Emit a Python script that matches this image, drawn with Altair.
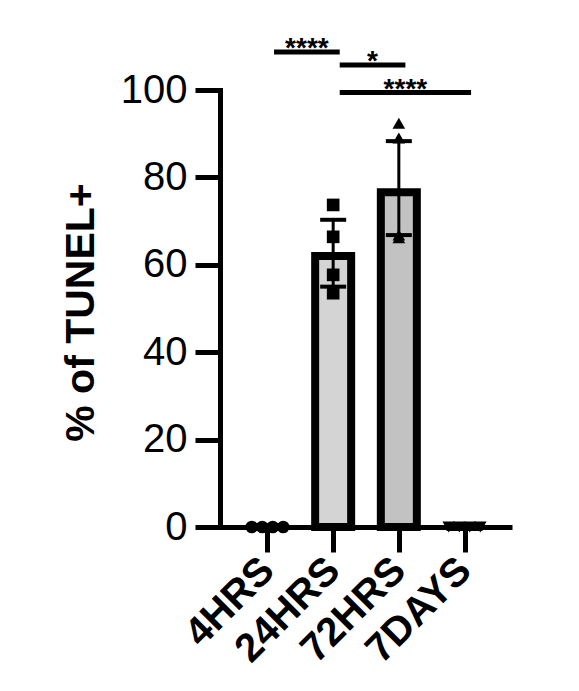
import altair as alt
import pandas as pd

# ---- data ----
groups = ["4HRS", "24HRS", "72HRS", "7DAYS"]
bar_values = [0.0, 62.0, 76.6, 0.0]
err_low = [0.0, 55.0, 66.8, 0.0]
err_high = [0.0, 70.3, 88.3, 0.0]
points_4hrs = [0.0, 0.0, 0.0, 0.0]
points_24hrs = [73.7, 66.4, 57.7, 53.5]
points_72hrs = [92.4, 89.0, 66.2, 66.8]
points_7days = [0.0, 0.0, 0.0, 0.0]
bracket_from = ["4HRS", "24HRS", "24HRS"]
bracket_to = ["24HRS", "72HRS", "7DAYS"]
bracket_stars = ["****", "*", "****"]
bracket_level = [108.7, 105.7, 99.4]

FONT = "Liberation Sans"

# ---- tables ----
bars = pd.DataFrame({
    "group": groups,
    "gx": list(range(len(groups))),
    "value": bar_values,
    "lo": err_low,
    "hi": err_high,
})

pts_rows = []
for gi, (g, vals) in enumerate(zip(groups, [points_4hrs, points_24hrs, points_72hrs, points_7days])):
    n = len(vals)
    overlap = len(set(vals)) == 1
    for k, v in enumerate(vals):
        off = 0.16 * (k - (n - 1) / 2) if overlap else 0.0
        pts_rows.append({"group": g, "gx": gi + off, "value": v})
pts = pd.DataFrame(pts_rows)

br = pd.DataFrame({
    "x1": [groups.index(g) + 0.1 for g in bracket_from],
    "x2": [groups.index(g) + 0.1 for g in bracket_to],
    "level": bracket_level,
    "stars": bracket_stars,
})
br["xm"] = (br["x1"] + br["x2"]) / 2

# ---- scales / axes ----
label_expr = "[" + ",".join("'%s'" % g for g in groups) + "][datum.value]"
xscale = alt.Scale(domain=[-0.647, 3.647], nice=False, zero=False)
yscale = alt.Scale(domain=[0, 100], nice=False)
xaxis = alt.Axis(
    values=[0, 1, 2, 3], labelExpr=label_expr, title="", grid=False,
    labelAngle=315, labelAlign="right", labelBaseline="middle",
    labelFontSize=40, labelFontWeight="bold", labelFont=FONT, labelColor="black",
    labelPadding=12, tickSize=25, tickWidth=5, tickColor="black",
    domainWidth=5, domainColor="black", labelOverlap=False,
)
yaxis = alt.Axis(
    values=[0, 20, 40, 60, 80, 100], title="% of TUNEL+", grid=False,
    titleFontSize=41, titleFontWeight="bold", titleFont=FONT, titleColor="black",
    titleAngle=270, titleX=-127, titleY=222, titleAlign="center", titleBaseline="alphabetic",
    labelFontSize=40, labelFont=FONT, labelColor="black", labelPadding=8,
    tickSize=25, tickWidth=5, tickColor="black",
    domainWidth=5, domainColor="black", domainCap="square",
)

X = lambda f: alt.X(f, type="quantitative", scale=xscale, axis=xaxis)
Y = lambda f: alt.Y(f, type="quantitative", scale=yscale, axis=yaxis)

bar_layer = alt.Chart(bars).mark_bar(size=36, stroke="black", strokeWidth=8).encode(
    x=X("gx"), y=Y("value"),
    color=alt.Color("group:N", scale=alt.Scale(domain=groups, range=["#d4d4d4", "#d4d4d4", "#c2c2c2", "#c2c2c2"]), legend=None),
)
err_line = alt.Chart(bars).mark_rule(color="black", strokeWidth=3).encode(
    x=X("gx"), y=Y("lo"), y2="hi",
)
err_caps_hi = alt.Chart(bars).mark_tick(color="black", opacity=1, orient="horizontal", size=26, thickness=4).encode(
    x=X("gx"), y=Y("hi"),
)
err_caps_lo = alt.Chart(bars).mark_tick(color="black", opacity=1, orient="horizontal", size=26, thickness=4).encode(
    x=X("gx"), y=Y("lo"),
)
pt_layer = alt.Chart(pts).mark_point(filled=True, opacity=1, color="black", size=160).encode(
    x=X("gx"), y=Y("value"),
    shape=alt.Shape("group:N", scale=alt.Scale(domain=groups, range=["circle", "square", "triangle-up", "triangle-down"]), legend=None),
)
br_rule = alt.Chart(br).mark_rule(color="black", strokeWidth=5).encode(
    x=X("x1"), x2="x2", y=Y("level"),
)
br_text = alt.Chart(br).mark_text(font=FONT, fontSize=28, fontWeight="bold", color="black",
                                   baseline="alphabetic", align="center", dy=5).encode(
    x=X("xm"), y=Y("level"), text="stars:N",
)

chart = alt.layer(bar_layer, err_line, err_caps_hi, err_caps_lo, pt_layer, br_rule, br_text).properties(
    width=292, height=437,
    autosize=alt.AutoSizeParams(type="none"),
    padding={"left": 212, "top": 82, "right": 55, "bottom": 150},
).configure_view(stroke=None)

chart.save("out.html", embed_options={"renderer": "svg", "actions": False})
